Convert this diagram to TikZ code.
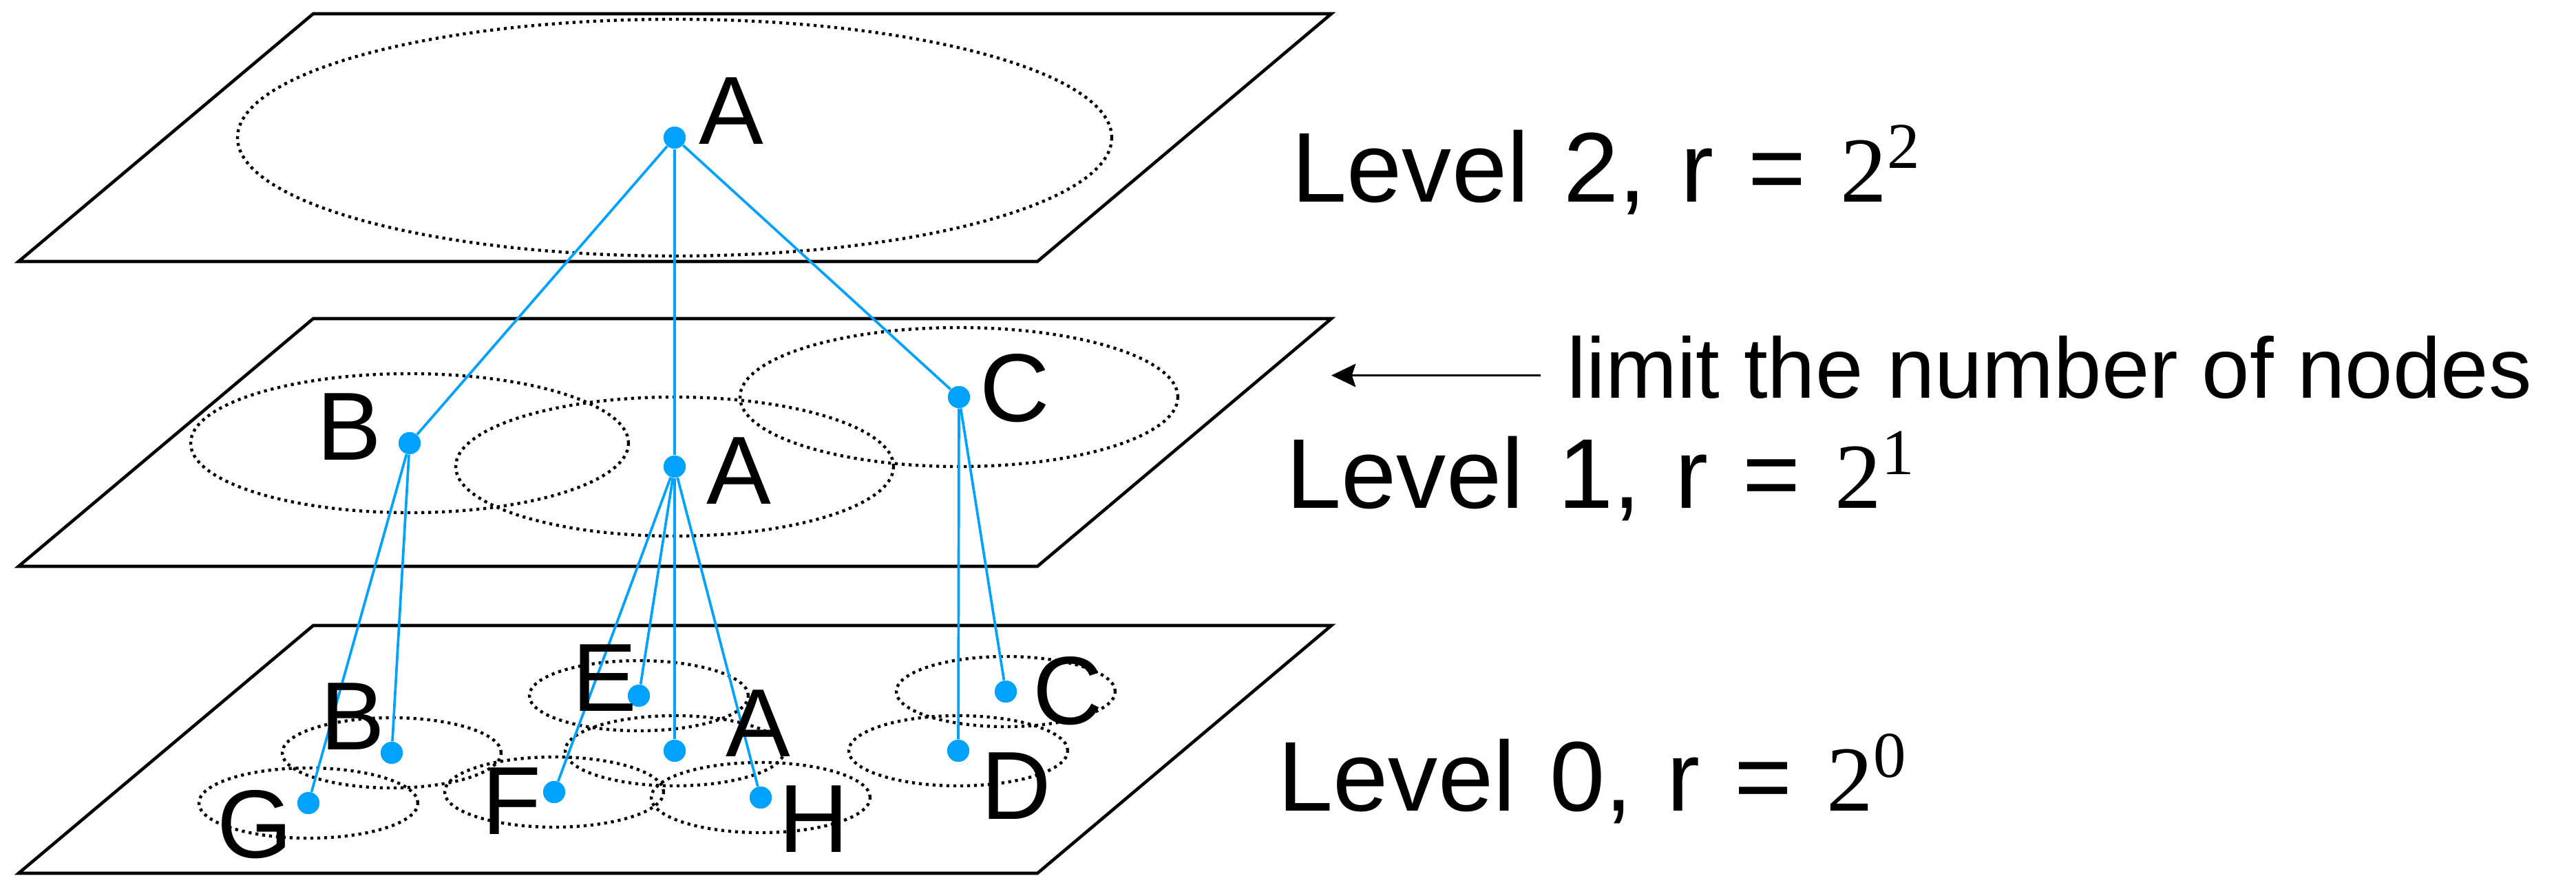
\documentclass[tikz,border=0pt]{standalone}
\usepackage{fontspec}
\setmainfont{Liberation Sans}
\newfontfamily\lvlfont[WordSpace=1.25]{Liberation Sans}
\newfontfamily\numfont{Liberation Serif}
\usetikzlibrary{arrows.meta}
\definecolor{linkblue}{RGB}{0,162,255}
% radius as a power of two, serif digits
\newcommand{\twopow}[1]{{\numfont\fontsize{38.5}{38.5}\selectfont 2\raisebox{0.49cm}{\fontsize{27}{27}\selectfont #1}}}

\begin{document}
\begin{tikzpicture}[scale=1.0,>={Stealth[length=10pt,width=9.5pt,inset=1.5pt]},
  plane/.style={line width=1.3pt,line join=miter},
  reach/.style={line width=1.25pt,dash pattern=on 1.2pt off 1.65pt},
  pt/.style={circle,fill=linkblue,inner sep=0pt,minimum size=0.32cm},
  link/.style={linkblue,line width=1.05pt},
  lbl/.style={anchor=base west,inner sep=0pt,font=\fontsize{40}{40}\selectfont},
  lvl/.style={anchor=base west,inner sep=0pt,font=\fontsize{41}{41}\lvlfont}]
\useasboundingbox (0,0) rectangle (37.42,12.72);
% the three layers, bottom to top
\foreach \y in {0.03,4.49,8.92}
  \draw[plane] (0.27,\y) -- (4.55,\y+3.6) -- (19.34,\y+3.6) -- (15.07,\y) -- cycle;
% level 2
\node[pt] (a2) at (9.80,10.72) {};
% level 1
\node[pt] (b1) at (5.95,6.28) {};
\node[pt] (a1) at (9.80,5.94) {};
\node[pt] (c1) at (13.93,6.95) {};
% level 0
\node[pt] (g0) at (4.48,1.05) {};
\node[pt] (b0) at (5.69,1.78) {};
\node[pt] (e0) at (9.28,2.61) {};
\node[pt] (a0) at (9.80,1.81) {};
\node[pt] (f0) at (8.05,1.21) {};
\node[pt] (h0) at (11.05,1.13) {};
\node[pt] (c0) at (14.61,2.67) {};
\node[pt] (d0) at (13.92,1.81) {};
% covering radius of each point
\draw[reach] (a2) ellipse [x radius=6.35,y radius=1.72];
\foreach \n in {b1,a1,c1}
  \draw[reach] (\n) ellipse [x radius=3.18,y radius=1.01];
\foreach \n in {g0,b0,e0,a0,f0,h0,c0,d0}
  \draw[reach] (\n) ellipse [x radius=1.59,y radius=0.51];
% parent -- child
\foreach \s/\t in {a2/b1,a2/a1,a2/c1,b1/g0,b1/b0,a1/f0,a1/e0,a1/a0,a1/h0,c1/d0,c1/c0}
  \draw[link] (\s) -- (\t);
\foreach \n in {a2,b1,a1,c1,g0,b0,e0,a0,f0,h0,c0,d0}
  \node[pt] at (\n) {};
% point names
\node[lbl] (la2) at (10.15,10.62) {A};
\node[lbl] (lb1) at (4.60,6.04) {B};
\node[lbl] (la1) at (10.26,5.40) {A};
\node[lbl] (lc1) at (14.23,6.60) {C};
\node[lbl] (lg0) at (3.15,0.26) {G};
\node[lbl] (lb0) at (4.65,1.83) {B};
\node[lbl] (le0) at (8.31,2.39) {E};
\node[lbl] (la0) at (10.54,1.73) {A};
\node[lbl] (lf0) at (7.00,0.60) {F};
\node[lbl] (lh0) at (11.31,0.34) {H};
\node[lbl] (lc0) at (15.00,2.20) {C};
\node[lbl] (ld0) at (14.25,0.82) {D};
% level captions
\node[lvl] (lv2) at (18.76,9.78) {Level 2, r = \twopow{2}};
\node[lvl] (lv1) at (18.68,5.34) {Level 1, r = \twopow{1}};
\node[lvl] (lv0) at (18.56,0.94) {Level 0, r = \twopow{0}};
\coordinate (tip) at (19.34,7.265);
\node[anchor=west,inner xsep=0.38cm,inner ysep=0pt,text height=0.65cm,text depth=0pt,
  font=\fontsize{35.5}{35.5}\selectfont] (note) at (22.38,7.265) {limit the number of nodes};
\draw[->,line width=1.1pt] (note) -- (tip);
\end{tikzpicture}
\end{document}
